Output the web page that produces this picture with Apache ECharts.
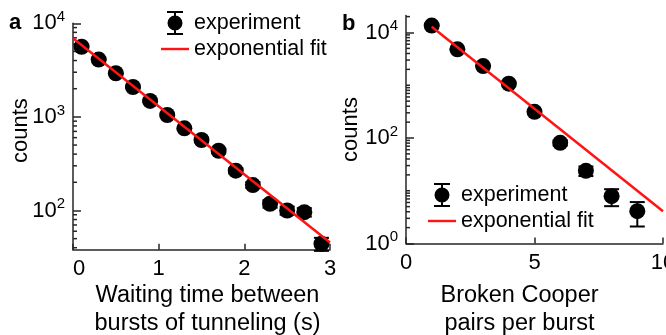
<!DOCTYPE html>
<html>
<head>
<meta charset="utf-8">
<script src="https://cdn.jsdelivr.net/npm/echarts@6/dist/echarts.min.js"></script>
<style>
  html, body { margin: 0; padding: 0; background: #fff; }
  #chart { width: 666px; height: 335px; }
</style>
</head>
<body>
<div id="chart"></div>
<script>
// Panel a: waiting time between bursts of tunneling
const waitTime = [0.1, 0.3, 0.5, 0.7, 0.9, 1.1, 1.3, 1.5, 1.7, 1.9, 2.1, 2.3, 2.5, 2.7, 2.9];
const waitCounts = [5620, 4100, 2925, 2085, 1480, 1047, 755, 566, 435, 266, 187, 118, 100, 96, 44];
const waitErr = [75, 64, 54, 46, 38, 32, 27, 24, 21, 16, 14, 11, 10, 10, 7];
const waitFitTime = [0, 3];
const waitFitCounts = [6920, 45.5];

// Panel b: broken Cooper pairs per burst
const pairsNum = [1, 2, 3, 4, 5, 6, 7, 8, 9];
const pairsCounts = [13500, 4800, 2310, 1070, 314, 81, 23.9, 7.9, 4.1];
const pairsErr = [116, 69, 48, 33, 18, 9, 4.9, 2.8, 2];
const pairsFitNum = [1, 10];
const pairsFitCounts = [12900, 4.1];

// labelled decades on each count axis
const yLabelsA = [100, 1000, 10000];
const yLabelsB = [1, 100, 10000];

const FONT = "'Liberation Sans', Arial, Helvetica, sans-serif";
const INK = '#262626';
const RED = '#ff1414';

// black dot with error bar, used as the legend icon of the measured data
const EXP_ICON = 'path://M0,0H16V2H0Z M7,2H9V5H7Z M0.5,12A7.5,7.5 0 1,1 15.5,12A7.5,7.5 0 1,1 0.5,12Z M7,19H9V22H7Z M0,22H16V24H0Z';
const FIT_ICON = 'path://M0,0H29V2.5H0Z';

// short ticks of a log axis: 2..9 times every decade, plus unlabelled decades
function shortLogTicks(min, max, labelled) {
  const out = [];
  for (let e = Math.floor(Math.log10(min)); e <= Math.ceil(Math.log10(max)); e++) {
    for (let k = 1; k <= 9; k++) {
      const v = Math.round(k * Math.pow(10, e) * 1e6) / 1e6;
      if (v >= min && v <= max && labelled.indexOf(v) < 0) out.push(v);
    }
  }
  return out;
}

function powerLabel(v) {
  const e = Math.round(Math.log10(v));
  return '{b|10}{s|' + e + '}';
}
const powerRich = {
  b: { fontSize: 22, lineHeight: 22, padding: [6, 0, 0, 0], fontFamily: FONT, color: '#000' },
  s: { fontSize: 15, lineHeight: 15, verticalAlign: 'top', fontFamily: FONT, color: '#000' }
};

function errorBars(params, api) {
  const x = api.value(0);
  const lo = api.coord([x, api.value(1)]);
  const hi = api.coord([x, api.value(2)]);
  const half = 7.5;
  const style = { stroke: '#000', lineWidth: 2 };
  return {
    type: 'group',
    children: [
      { type: 'line', shape: { x1: lo[0], y1: lo[1], x2: hi[0], y2: hi[1] }, style: style },
      { type: 'line', shape: { x1: lo[0] - half, y1: lo[1], x2: lo[0] + half, y2: lo[1] }, style: style },
      { type: 'line', shape: { x1: hi[0] - half, y1: hi[1], x2: hi[0] + half, y2: hi[1] }, style: style }
    ]
  };
}

// short inward tick on the count axis, placed through the axis scale
function shortTick(params, api) {
  const c = api.coord([api.value(0), api.value(1)]);
  return {
    type: 'line',
    shape: { x1: c[0], y1: c[1], x2: c[0] + 4, y2: c[1] },
    style: { stroke: INK, lineWidth: 1.5 }
  };
}

const axisLine = { show: true, lineStyle: { color: INK, width: 1.5 } };
const tickStyle = { color: INK, width: 1.5 };

function logYAxis(gridIndex, min, max, labelled, nameGap, namePad) {
  return {
    gridIndex: gridIndex,
    type: 'log',
    logBase: 10,
    min: min,
    max: max,
    position: 'left',
    axisLine: axisLine,
    axisTick: { show: true, inside: true, length: 8, customValues: labelled, lineStyle: tickStyle },
    splitLine: { show: false },
    axisLabel: {
      customValues: labelled,
      formatter: powerLabel,
      rich: powerRich,
      margin: 8,
      padding: [0, 0, 6, 0]
    },
    name: 'counts',
    nameLocation: 'middle',
    nameGap: nameGap,
    nameMoveOverlap: false,
    nameTextStyle: { fontSize: 22, color: '#000', fontFamily: FONT, padding: namePad }
  };
}

function linXAxis(gridIndex, min, max, interval, name, nameGap, namePad, alignMin) {
  return {
    gridIndex: gridIndex,
    type: 'value',
    min: min,
    max: max,
    interval: interval,
    position: 'bottom',
    axisLine: axisLine,
    axisTick: { show: true, inside: true, length: 6, lineStyle: tickStyle },
    splitLine: { show: false },
    axisLabel: { fontSize: 22, color: '#000', fontFamily: FONT, margin: 8, alignMinLabel: alignMin },
    name: name,
    nameLocation: 'middle',
    nameGap: nameGap,
    nameMoveOverlap: false,
    nameTextStyle: { fontSize: 23.5, lineHeight: 28, color: '#000', fontFamily: FONT, padding: namePad }
  };
}

function legendAt(left, top) {
  return {
    orient: 'vertical',
    left: left,
    top: top,
    padding: 0,
    itemWidth: 28,
    itemHeight: 24,
    itemGap: 3,
    selectedMode: false,
    textStyle: { fontSize: 21.5, color: '#000', fontFamily: FONT },
    data: [{ name: 'experiment', icon: EXP_ICON }, { name: 'exponential fit', icon: FIT_ICON }]
  };
}

function panelSeries(idx, xs, ys, errs, fitX, fitY, shortTicks) {
  return [
    {
      name: 'count axis ticks',
      type: 'custom',
      xAxisIndex: idx,
      yAxisIndex: idx,
      silent: true,
      renderItem: shortTick,
      data: shortTicks.map(v => [0, v]),
      z: 1
    },
    {
      name: 'experiment error',
      type: 'custom',
      xAxisIndex: idx,
      yAxisIndex: idx,
      renderItem: errorBars,
      encode: { x: 0, y: [1, 2] },
      data: xs.map((x, i) => [x, ys[i] - errs[i], ys[i] + errs[i]]),
      z: 2
    },
    {
      name: 'experiment',
      type: 'scatter',
      xAxisIndex: idx,
      yAxisIndex: idx,
      symbol: 'circle',
      symbolSize: 16,
      itemStyle: { color: '#000', opacity: 1 },
      data: xs.map((x, i) => [x, ys[i]]),
      z: 3
    },
    {
      name: 'exponential fit',
      type: 'line',
      xAxisIndex: idx,
      yAxisIndex: idx,
      symbol: 'none',
      lineStyle: { color: RED, width: 2.5 },
      itemStyle: { color: RED },
      data: fitX.map((x, i) => [x, fitY[i]]),
      z: 4
    }
  ];
}

const chart = echarts.init(document.getElementById('chart'), null, { renderer: 'canvas' });

chart.setOption({
  animation: false,
  backgroundColor: '#fff',
  textStyle: { fontFamily: FONT },
  title: [
    { text: 'a', left: 9, top: 11.5, padding: 0, textStyle: { fontSize: 22, fontWeight: 'bold', color: '#000', fontFamily: FONT } },
    { text: 'b', left: 342, top: 12.5, padding: 0, textStyle: { fontSize: 22, fontWeight: 'bold', color: '#000', fontFamily: FONT } }
  ],
  legend: [legendAt(161, 11), legendAt(428, 183)],
  grid: [
    { left: 73, top: 23.3, width: 257, height: 226.5, containLabel: false, outerBoundsMode: 'none' },
    { left: 406, top: 15.5, width: 257, height: 228, containLabel: false, outerBoundsMode: 'none' }
  ],
  xAxis: [
    linXAxis(0, 0, 3, 1, 'Waiting time between\nbursts of tunneling (s)', 32, [0, 0, 0, 12], 'left'),
    linXAxis(1, 0, 10, 5, 'Broken Cooper\npairs per burst', 38.5, [0, 30, 0, 0], 'center')
  ],
  yAxis: [
    logYAxis(0, 38, 10000, yLabelsA, 41, [0, 0, 0, 12]),
    logYAxis(1, 1, 21000, yLabelsB, 44, [0, 0, 0, 0])
  ],
  series: [].concat(
    panelSeries(0, waitTime, waitCounts, waitErr, waitFitTime, waitFitCounts, shortLogTicks(38, 10000, yLabelsA)),
    panelSeries(1, pairsNum, pairsCounts, pairsErr, pairsFitNum, pairsFitCounts, shortLogTicks(1, 21000, yLabelsB))
  )
});
</script>
</body>
</html>
